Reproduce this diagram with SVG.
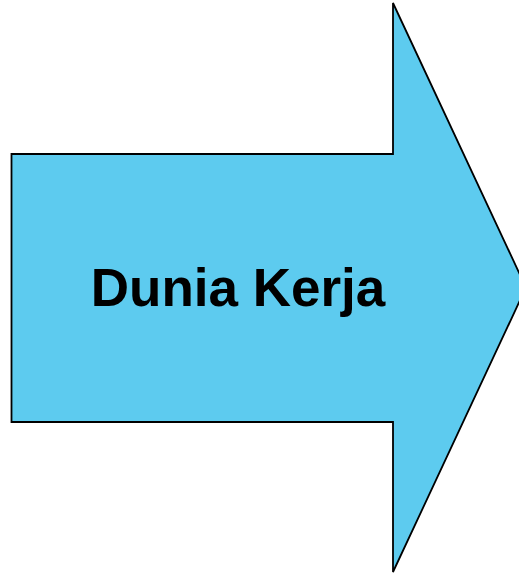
<svg xmlns="http://www.w3.org/2000/svg" width="519" height="575" viewBox="0 0 519 575">
<style>
.arrow{fill:#5DCBEF;stroke:#000;stroke-width:1.8;stroke-linejoin:miter}
.label{font-family:"Liberation Sans",Arial,sans-serif;font-weight:bold;font-size:53px;fill:#000}
</style>
<rect width="519" height="575" fill="#fff"/>
<g id="arrow">
<polygon class="arrow" points="11.5,154 393,154 393,3 526,287.5 393,572 393,422 11.5,422"/>
<text class="label" x="238" y="306" text-anchor="middle">Dunia Kerja</text>
</g>
</svg>
